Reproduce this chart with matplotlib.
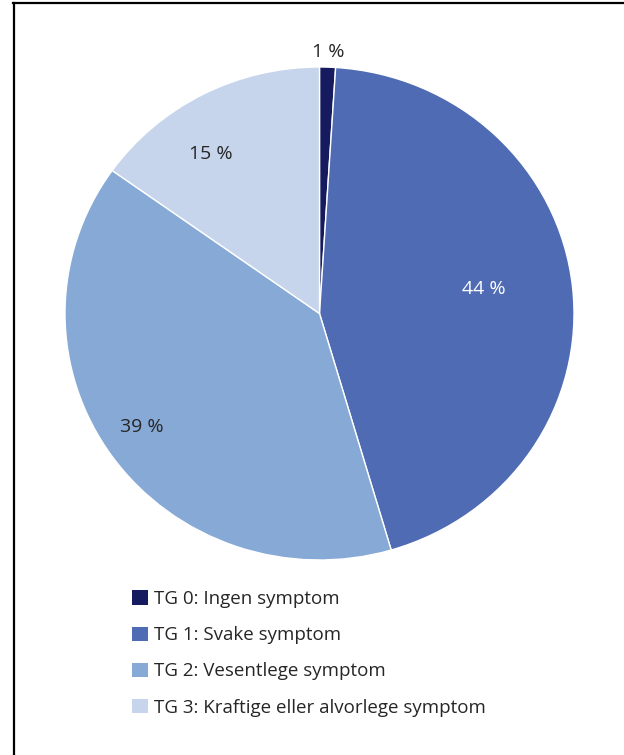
import matplotlib.pyplot as plt
from matplotlib.lines import Line2D
import numpy as np

# data
categories = ["TG 0: Ingen symptom", "TG 1: Svake symptom",
              "TG 2: Vesentlege symptom", "TG 3: Kraftige eller alvorlege symptom"]
shares = [1, 44, 39, 15]
colors = ["#161a5e", "#4f6bb3", "#87a9d6", "#c6d5ec"]
label_colors = ["#262626", "white", "#262626", "#262626"]
# label placement: distance from centre and a small angle nudge (degrees)
label_dist = [1.06, 0.655, 0.835, 0.775]
label_nudge = [0, 2.3, -2, 6]

W, H = 624, 755
plt.rcParams['font.family'] = ['Open Sans', 'DejaVu Sans']

fig = plt.figure(figsize=(W / 100, H / 100), dpi=100)

# pie area (pixels): x 65..574, y 67..560
ax = fig.add_axes([65 / W, 1 - 560 / H, 509 / W, 493 / H])
wedges, _ = ax.pie(shares, colors=colors, startangle=90, counterclock=False,
                   wedgeprops=dict(edgecolor="white", linewidth=1.0))
ax.set_aspect('auto')
ax.set_xlim(-1, 1)
ax.set_ylim(-1, 1)
ax.axis('off')

for w, v, c, d, n in zip(wedges, shares, label_colors, label_dist, label_nudge):
    mid = np.deg2rad((w.theta1 + w.theta2) / 2 + n)
    ax.text(d * np.cos(mid), d * np.sin(mid), f"{v} %", color=c,
            fontsize=14, ha="center", va="center")

leg = fig.legend(wedges, categories, loc="upper left",
                 bbox_to_anchor=(132 / W, 1 - 590 / H), frameon=False,
                 fontsize=13.5, handlelength=0.85, handleheight=0.8,
                 handletextpad=0.35, labelspacing=0.97, borderpad=0,
                 borderaxespad=0)
for t in leg.get_texts():
    t.set_color("#262626")
for h in leg.legend_handles:
    h.set_edgecolor("none")

# frame lines (only top and left visible)
fig.add_artist(Line2D([13 / W, 1], [1 - 3 / H, 1 - 3 / H], color="black",
                      linewidth=1.6, transform=fig.transFigure))
fig.add_artist(Line2D([14 / W, 14 / W], [1 - 3 / H, 0], color="black",
                      linewidth=1.6, transform=fig.transFigure))

fig.savefig("out.png", dpi=100, facecolor="white")
